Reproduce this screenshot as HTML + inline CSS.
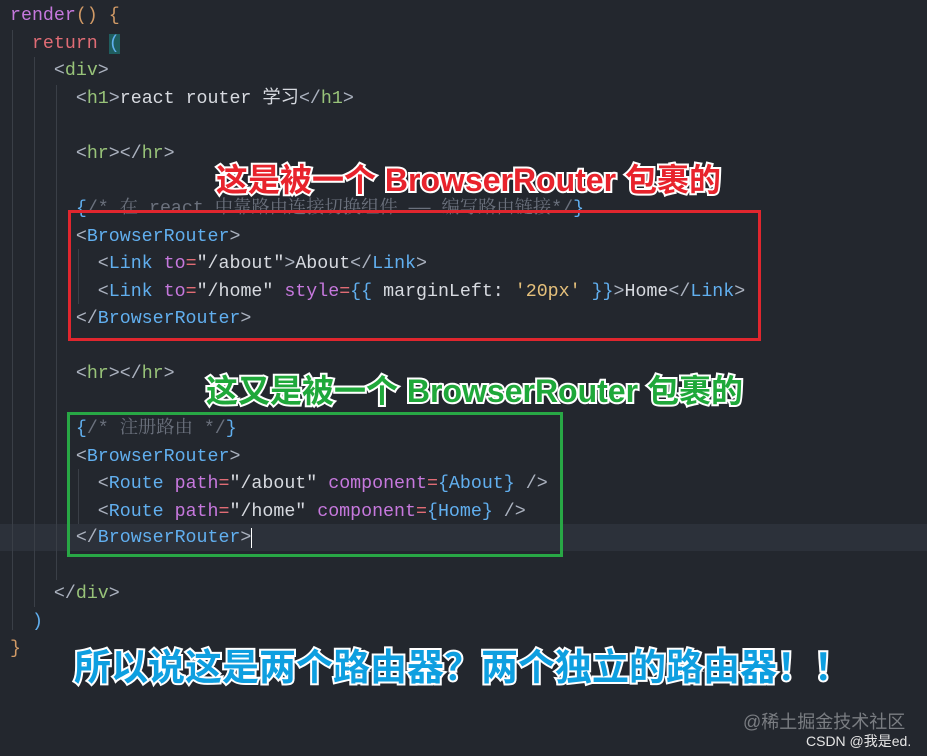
<!DOCTYPE html>
<html><head><meta charset="utf-8"><style>
body{margin:0;width:927px;height:756px;background:#23272e;overflow:hidden;position:relative;font-family:"Liberation Mono","Noto Sans CJK SC",monospace;}
.l{position:absolute;left:10px;height:27px;line-height:27px;font-size:18.3px;color:#d7dae0;white-space:pre;}
.g{color:#98c379}.p{color:#abb2bf}.b{color:#61afef}.a{color:#c678dd}.o{color:#e5c07b}.r{color:#e06c75}.c{color:#6b717d;font-family:"Liberation Mono","Noto Serif CJK SC",monospace}.k{color:#d19a66}
.guide{position:absolute;width:1px;background:#3a3f47}
.ov{position:absolute;font-family:"Liberation Sans","Noto Sans CJK SC",sans-serif;font-weight:bold;white-space:nowrap;paint-order:stroke fill;}
.box{position:absolute;box-sizing:border-box;}
</style></head><body>
<div style="position:absolute;left:0;top:524px;width:927px;height:27px;background:#2c313a"></div>
<div class="guide" style="left:12px;top:30px;height:600px"></div>
<div class="guide" style="left:34px;top:57px;height:550px"></div>
<div class="guide" style="left:56px;top:85px;height:495px"></div>
<div class="guide" style="left:78px;top:249px;height:55px"></div>
<div class="guide" style="left:78px;top:469px;height:55px"></div>

<div class="l" style="top:3px"><span class="a">render</span><span class="k">()</span> <span class="k">{</span></div>
<div class="l" style="top:31px">  <span class="r">return</span> <span class="b" style="background:#1f5d5e">(</span></div>
<div class="l" style="top:58px">    <span class="p">&lt;</span><span class="g">div</span><span class="p">&gt;</span></div>
<div class="l" style="top:86px">      <span class="p">&lt;</span><span class="g">h1</span><span class="p">&gt;</span>react router 学习<span class="p">&lt;/</span><span class="g">h1</span><span class="p">&gt;</span></div>
<div class="l" style="top:141px">      <span class="p">&lt;</span><span class="g">hr</span><span class="p">&gt;&lt;/</span><span class="g">hr</span><span class="p">&gt;</span></div>
<div class="l" style="top:196px">      <span class="b">{</span><span class="c">/* 在 react 中靠路由连接切换组件 —— 编写路由链接*/</span><span class="b">}</span></div>
<div class="l" style="top:224px">      <span class="p">&lt;</span><span class="b">BrowserRouter</span><span class="p">&gt;</span></div>
<div class="l" style="top:251px">        <span class="p">&lt;</span><span class="b">Link</span> <span class="a">to</span><span class="r">=</span>"/about"<span class="p">&gt;</span>About<span class="p">&lt;/</span><span class="b">Link</span><span class="p">&gt;</span></div>
<div class="l" style="top:279px">        <span class="p">&lt;</span><span class="b">Link</span> <span class="a">to</span><span class="r">=</span>"/home" <span class="a">style</span><span class="r">=</span><span class="b">{{</span> marginLeft: <span class="o">'20px'</span> <span class="b">}}</span><span class="p">&gt;</span>Home<span class="p">&lt;/</span><span class="b">Link</span><span class="p">&gt;</span></div>
<div class="l" style="top:306px">      <span class="p">&lt;/</span><span class="b">BrowserRouter</span><span class="p">&gt;</span></div>
<div class="l" style="top:361px">      <span class="p">&lt;</span><span class="g">hr</span><span class="p">&gt;&lt;/</span><span class="g">hr</span><span class="p">&gt;</span></div>
<div class="l" style="top:416px">      <span class="b">{</span><span class="c">/* 注册路由 */</span><span class="b">}</span></div>
<div class="l" style="top:444px">      <span class="p">&lt;</span><span class="b">BrowserRouter</span><span class="p">&gt;</span></div>
<div class="l" style="top:471px">        <span class="p">&lt;</span><span class="b">Route</span> <span class="a">path</span><span class="r">=</span>"/about" <span class="a">component</span><span class="r">=</span><span class="b">{About}</span> <span class="p">/&gt;</span></div>
<div class="l" style="top:499px">        <span class="p">&lt;</span><span class="b">Route</span> <span class="a">path</span><span class="r">=</span>"/home" <span class="a">component</span><span class="r">=</span><span class="b">{Home}</span> <span class="p">/&gt;</span></div>
<div class="l" style="top:525px">      <span class="p">&lt;/</span><span class="b">BrowserRouter</span><span class="p">&gt;</span><span style="border-left:1.5px solid #fff"></span></div>
<div class="l" style="top:581px">    <span class="p">&lt;/</span><span class="g">div</span><span class="p">&gt;</span></div>
<div class="l" style="top:609px">  <span class="b">)</span></div>
<div class="l" style="top:636px"><span class="k">}</span></div>

<div class="box" style="left:68px;top:210px;width:693px;height:131px;border:3px solid #e0262e"></div>
<div class="box" style="left:67px;top:412px;width:496px;height:145px;border:3px solid #28a745"></div>

<div class="ov" style="left:216px;top:155px;font-size:32px;color:#e8232c;-webkit-text-stroke:4px #fff;">这是被一个 BrowserRouter 包裹的</div>
<div class="ov" style="left:206px;top:366px;font-size:32px;color:#1fa83a;-webkit-text-stroke:4px #fff;">这又是被一个 BrowserRouter 包裹的</div>
<div class="ov" style="left:74px;top:637px;font-size:37px;color:#0e9fe0;-webkit-text-stroke:4px #fff;font-family:'Noto Sans CJK SC',sans-serif;">所以说这是两个路由器？两个独立的路由器！！</div>

<div style="position:absolute;left:743px;top:708px;font-family:'Liberation Sans','Noto Sans CJK SC',sans-serif;font-size:18px;color:#7a7d82">@稀土掘金技术社区</div>
<div style="position:absolute;left:806px;top:731px;font-family:'Liberation Sans','Noto Sans CJK SC',sans-serif;font-size:14px;color:#e6e6e6">CSDN @我是ed.</div>
</body></html>
